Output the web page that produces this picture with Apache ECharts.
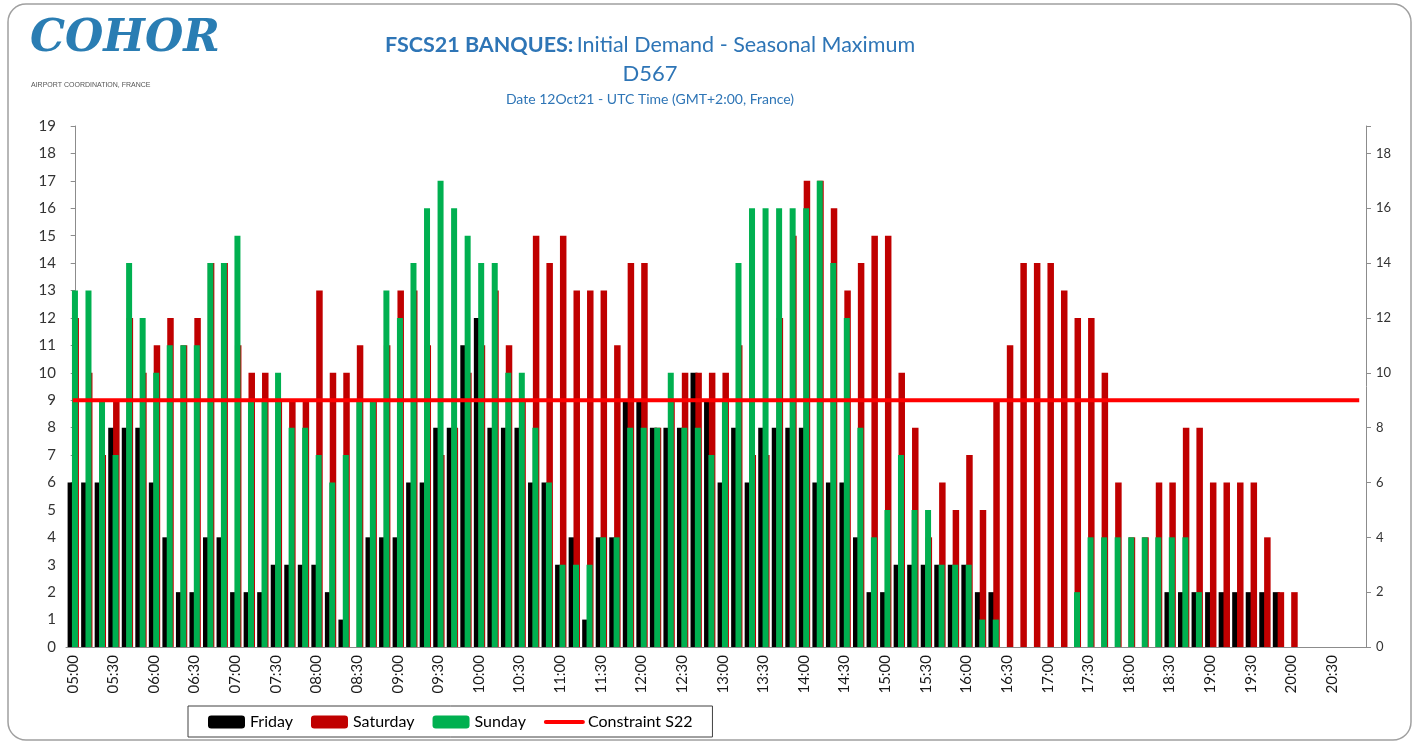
<!DOCTYPE html>
<html>
<head>
<meta charset="utf-8">
<script src="https://cdn.jsdelivr.net/npm/echarts@6/dist/echarts.min.js"></script>
<style>
  html, body { margin: 0; padding: 0; background: #fff; }
  #chart { width: 1419px; height: 743px; }
</style>
</head>
<body>
<div id="chart"></div>
<script>
// créneaux de 10 minutes, 05:00 -> 20:50
const times = [
  '05:00', '05:10', '05:20', '05:30', '05:40', '05:50', '06:00', '06:10', '06:20', '06:30', '06:40', '06:50',
  '07:00', '07:10', '07:20', '07:30', '07:40', '07:50', '08:00', '08:10', '08:20', '08:30', '08:40', '08:50',
  '09:00', '09:10', '09:20', '09:30', '09:40', '09:50', '10:00', '10:10', '10:20', '10:30', '10:40', '10:50',
  '11:00', '11:10', '11:20', '11:30', '11:40', '11:50', '12:00', '12:10', '12:20', '12:30', '12:40', '12:50',
  '13:00', '13:10', '13:20', '13:30', '13:40', '13:50', '14:00', '14:10', '14:20', '14:30', '14:40', '14:50',
  '15:00', '15:10', '15:20', '15:30', '15:40', '15:50', '16:00', '16:10', '16:20', '16:30', '16:40', '16:50',
  '17:00', '17:10', '17:20', '17:30', '17:40', '17:50', '18:00', '18:10', '18:20', '18:30', '18:40', '18:50',
  '19:00', '19:10', '19:20', '19:30', '19:40', '19:50', '20:00', '20:10', '20:20', '20:30', '20:40', '20:50',
]

const friday = [
  6, 6, 6, 8, 8, 8, 6, 4, 2, 2, 4, 4,
  2, 2, 2, 3, 3, 3, 3, 2, 1, 0, 4, 4,
  4, 6, 6, 8, 8, 11, 12, 8, 8, 8, 6, 6,
  3, 4, 1, 4, 4, 9, 9, 8, 8, 8, 10, 9,
  6, 8, 6, 8, 8, 8, 8, 6, 6, 6, 4, 2,
  2, 3, 3, 3, 3, 3, 3, 2, 2, 0, 0, 0,
  0, 0, 0, 0, 0, 0, 0, 0, 0, 2, 2, 2,
  2, 2, 2, 2, 2, 2, 0, 0, 0, 0, 0, 0,
]

const saturday = [
  12, 10, 7, 9, 12, 10, 11, 12, 11, 12, 14, 14,
  11, 10, 10, 9, 9, 9, 13, 10, 10, 11, 9, 11,
  13, 13, 11, 7, 8, 10, 11, 13, 11, 9, 15, 14,
  15, 13, 13, 13, 11, 14, 14, 8, 9, 10, 10, 10,
  10, 11, 7, 7, 12, 15, 17, 17, 16, 13, 14, 15,
  15, 10, 8, 4, 6, 5, 7, 5, 9, 11, 14, 14,
  14, 13, 12, 12, 10, 6, 4, 4, 6, 6, 8, 8,
  6, 6, 6, 6, 4, 2, 2, 0, 0, 0, 0, 0,
]

const sunday = [
  13, 13, 9, 7, 14, 12, 10, 11, 11, 11, 14, 14,
  15, 9, 9, 10, 8, 8, 7, 6, 7, 9, 9, 13,
  12, 14, 16, 17, 16, 15, 14, 14, 10, 10, 8, 6,
  3, 3, 3, 4, 4, 8, 8, 8, 10, 8, 8, 7,
  9, 14, 16, 16, 16, 16, 16, 17, 14, 12, 8, 4,
  5, 7, 5, 5, 3, 3, 3, 1, 1, 0, 0, 0,
  0, 0, 2, 4, 4, 4, 4, 4, 4, 4, 4, 2,
  0, 0, 0, 0, 0, 0, 0, 0, 0, 0, 0, 0,
]

const constraintS22 = 9

const blue = '#2E75B6'
const font = 'Lato'

// le samedi est dessiné sur un axe x de valeur caché, décalé vers la droite
const satShift = 0.216

const chart = echarts.init(document.getElementById('chart'))

const option = {
  animation: false,
  textStyle: { fontFamily: font },
  graphic: [
    {
      type: 'rect',
      shape: { x: 8, y: 4, width: 1403, height: 736, r: 18 },
      style: { fill: 'none', stroke: '#a0a0a0', lineWidth: 1.5 },
      silent: true,
    },
    {
      type: 'text',
      left: 30,
      top: 18,
      style: {
        text: 'COHOR',
        fill: '#2A7DB3',
        font: 'italic bold 44px "DejaVu Serif"',
      },
    },
    {
      type: 'text',
      left: 31,
      top: 82,
      style: {
        text: 'AIRPORT COORDINATION, FRANCE',
        fill: '#555',
        font: '7px "Liberation Sans Narrow", "Liberation Sans"',
      },
    },
    {
      type: 'text',
      x: 650,
      y: 45,
      style: {
        text: '{b|FSCS21 BANQUES:} {n|Initial Demand - Seasonal Maximum}',
        align: 'center',
        verticalAlign: 'middle',
        rich: {
          b: { fontSize: 21.5, fontWeight: 'bold', fill: blue, fontFamily: font },
          n: { fontSize: 21.5, fill: blue, fontFamily: font },
        },
      },
    },
    {
      type: 'text',
      x: 650,
      y: 74,
      style: {
        text: 'D567',
        align: 'center',
        verticalAlign: 'middle',
        fill: blue,
        font: '22px Lato',
      },
    },
    {
      type: 'text',
      x: 650,
      y: 99,
      style: {
        text: 'Date 12Oct21 - UTC Time (GMT+2:00, France)',
        align: 'center',
        verticalAlign: 'middle',
        fill: blue,
        font: '14px Lato',
      },
    },
  ],
  legend: {
    data: [
      'Friday',
      'Saturday',
      'Sunday',
      { name: 'Constraint S22', itemStyle: { opacity: 0 }, lineStyle: { width: 4, cap: 'round' } },
    ],
    left: 188,
    top: 706,
    padding: [8, 20, 7, 20],
    itemGap: 18,
    itemWidth: 37,
    itemHeight: 13,
    borderColor: '#404040',
    borderWidth: 1,
    textStyle: { fontSize: 16, color: '#000', fontFamily: font },
  },
  grid: {
    left: 66,
    right: 53,
    top: 126,
    bottom: 96,
  },
  xAxis: [
    {
      type: 'category',
      data: times,
      axisLine: { lineStyle: { color: '#8c8c8c' } },
      axisTick: { interval: 0, length: 5, lineStyle: { color: '#8c8c8c' } },
      axisLabel: {
        interval: 2,
        rotate: 90,
        fontSize: 15,
        color: '#1a1a1a',
        margin: 8,
      },
    },
    {
      type: 'value',
      show: false,
      min: -0.5 - satShift,
      max: times.length - 0.5 - satShift,
    },
  ],
  yAxis: [
    {
      type: 'value',
      min: 0,
      max: 19,
      interval: 1,
      axisLine: { show: true, lineStyle: { color: '#8c8c8c' } },
      axisTick: { show: true, length: 5, lineStyle: { color: '#8c8c8c' } },
      axisLabel: { fontSize: 15, color: '#333', margin: 10 },
      splitLine: { show: false },
    },
    {
      type: 'value',
      min: 0,
      max: 19,
      interval: 2,
      position: 'right',
      axisLine: { show: true, lineStyle: { color: '#8c8c8c' } },
      axisTick: { show: true, length: 5, lineStyle: { color: '#8c8c8c' } },
      axisLabel: {
        fontSize: 13,
        color: '#333',
        margin: 10,
        formatter: v => (v === 19 ? '' : v),
      },
      splitLine: { show: false },
    },
  ],
  series: [
    {
      name: 'Friday',
      type: 'bar',
      data: friday,
      barWidth: 7,
      barGap: '-38%',
      itemStyle: { color: '#000000' },
      z: 2,
    },
    {
      name: 'Sunday',
      type: 'bar',
      data: sunday,
      barWidth: 6,
      barGap: '-38%',
      itemStyle: { color: '#00B050' },
      z: 4,
    },
    {
      name: 'Saturday',
      type: 'bar',
      xAxisIndex: 1,
      data: saturday.map((v, i) => [i, v]),
      barWidth: 6.5,
      itemStyle: { color: '#C00000' },
      z: 3,
    },
    {
      name: 'Constraint S22',
      type: 'line',
      data: times.map(() => constraintS22),
      symbol: 'none',
      lineStyle: { color: '#FF0000', width: 4 },
      itemStyle: { color: '#FF0000' },
      z: 5,
    },
  ],
}

chart.setOption(option)
</script>
</body>
</html>
